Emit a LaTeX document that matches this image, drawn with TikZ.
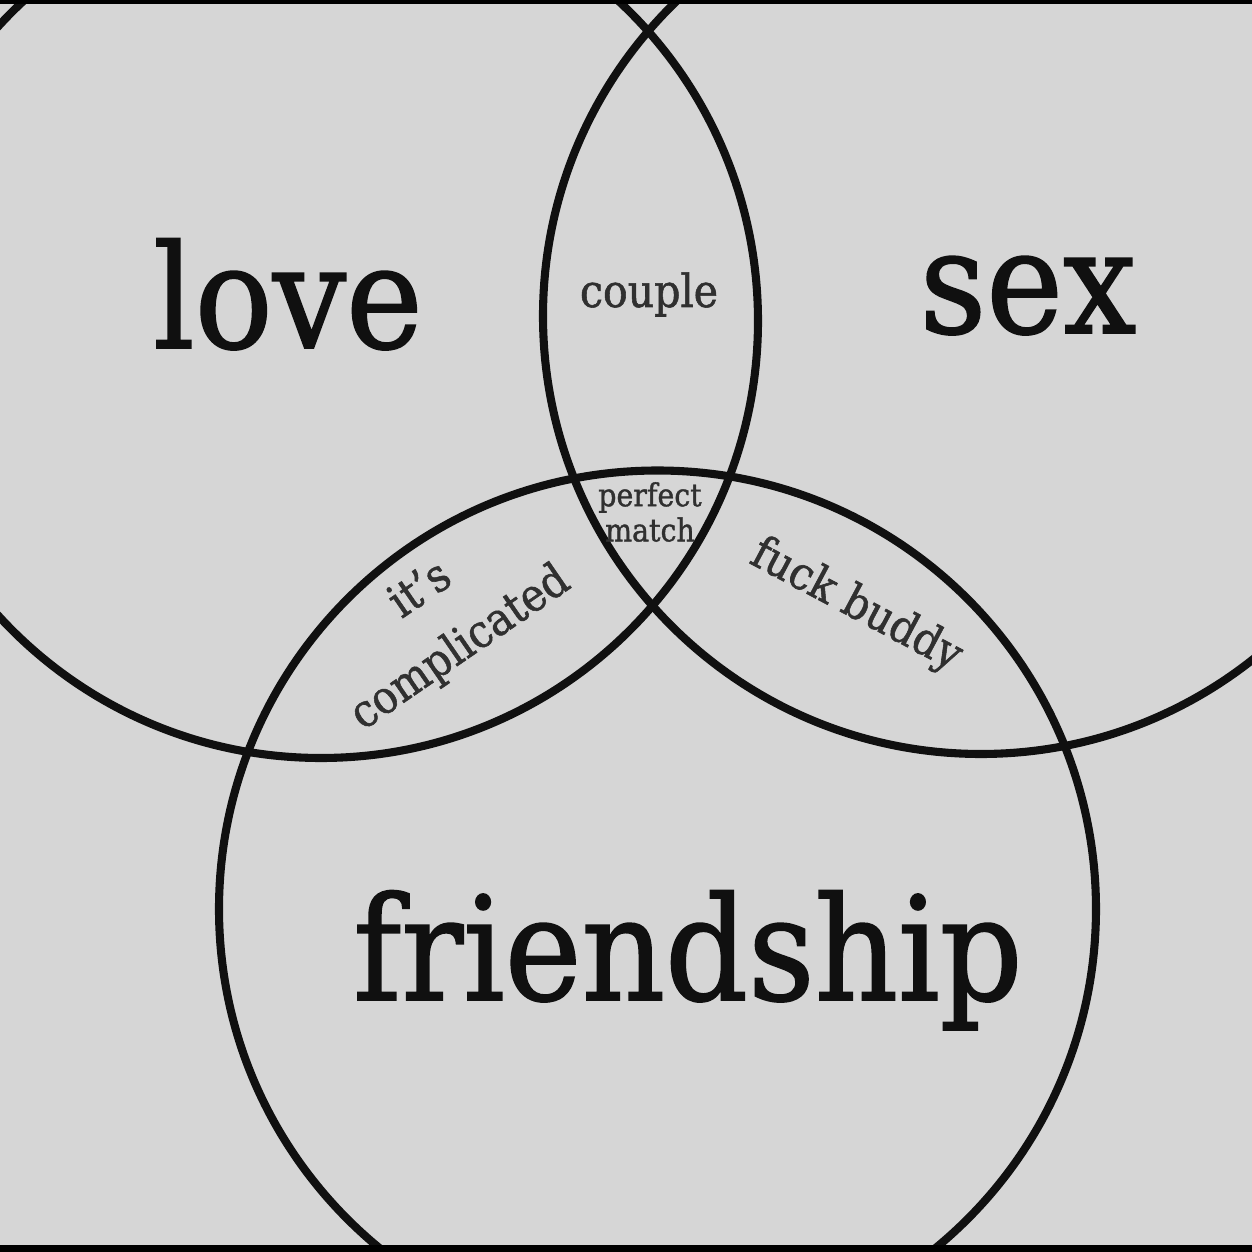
\documentclass[tikz,border=0pt]{standalone}
\usepackage{fontspec}
\setmainfont{DejaVu Serif}[FakeStretch=0.9, FakeBold=1.2]
\usepackage{xcolor}
\usepackage{tikz}
\usetikzlibrary{positioning}

\definecolor{paper}{RGB}{214,214,214}
\definecolor{ink}{RGB}{16,16,16}
\definecolor{softink}{RGB}{48,48,48}

\begin{document}
\begin{tikzpicture}[
  ring/.style={draw=ink, line width=2.3pt},
  bigWord/.style={text=ink, inner sep=0pt, font=\fontsize{41}{45}\selectfont},
  smallLabel/.style={text=softink, inner sep=0pt, align=center, font=\fontsize{13}{20}\selectfont},
  tinyLabel/.style={text=softink, inner sep=0pt, align=center, font=\fontsize{9}{10}\selectfont}
]
\useasboundingbox (0,0) rectangle (12.52,12.52);
\fill[paper] (0,0) rectangle (12.52,12.52);

% set centres
\coordinate (loveC) at (3.21,9.31);
\coordinate (sexC) at (9.81,9.36);
\coordinate (friendC) at (6.575,3.43);

\begin{scope}
\clip (0,0) rectangle (12.52,12.52);
\draw[ring] (loveC) circle (4.37);
\draw[ring] (sexC) circle (4.38);
\draw[ring] (friendC) circle (4.385);
\end{scope}

% frame bands
\fill[black] (0,12.48) rectangle (12.52,12.52);
\fill[black] (0,0) rectangle (12.52,0.07);

\node[bigWord, anchor=base] (love) at (2.88,9.04) {love};
\node[bigWord, anchor=base] (sex) at (10.28,9.19) {sex};
\node[bigWord, anchor=base] (friendship) at (6.88,2.52) {friendship};

\node[smallLabel, anchor=base] (couple) at (6.49,9.45) {couple};
\node[tinyLabel] (perfect) at (6.50,7.40) {perfect\\match};
\node[smallLabel, rotate=34.5] (complicated) at (4.41,6.32) {it's\hspace{1em}\\complicated};
\node[smallLabel, rotate=-28] (buddy) at (8.56,6.46) {fuck buddy};
\end{tikzpicture}
\end{document}
